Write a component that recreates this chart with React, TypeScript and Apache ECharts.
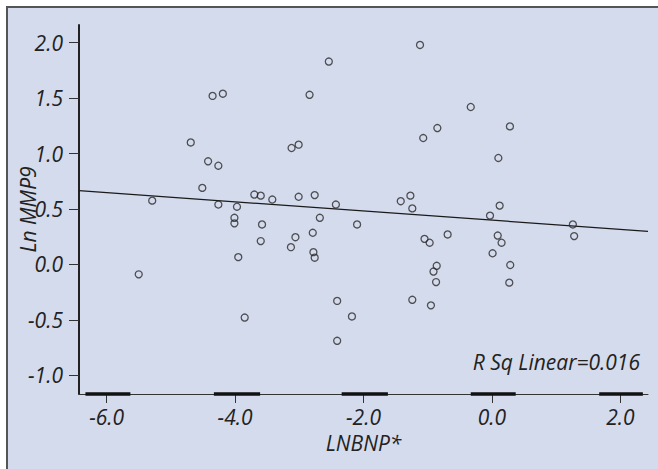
import React, { useEffect, useRef } from "react";
import * as echarts from "echarts";

// LNBNP* (x) and Ln MMP9 (y) for each subject
const lnbnp = [
  -5.5, -5.29, -4.69, -4.51, -4.42, -4.35, -4.26, -4.26, -4.19, -4.01,
  -4.01, -3.97, -3.95, -3.85, -3.7, -3.6, -3.58, -3.6, -3.42, -3.12,
  -3.01, -3.13, -3.06, -3.01, -2.84, -2.79, -2.78, -2.76, -2.76, -2.68,
  -2.54, -2.43, -2.41, -2.41, -2.18, -2.1, -1.42, -1.27, -1.24, -1.24,
  -1.12, -1.07, -1.05, -0.97, -0.95, -0.91, -0.86, -0.87, -0.85, -0.69,
  -0.33, -0.03, 0.01, 0.09, 0.1, 0.12, 0.15, 0.28, 0.285, 0.27,
  1.26, 1.28,
];
const lnmmp9 = [
  -0.09, 0.575, 1.1, 0.69, 0.93, 1.52, 0.89, 0.54, 1.54, 0.42,
  0.37, 0.52, 0.065, -0.48, 0.63, 0.62, 0.36, 0.21, 0.585, 1.05,
  1.08, 0.155, 0.245, 0.61, 1.53, 0.285, 0.11, 0.06, 0.625, 0.42,
  1.83, 0.54, -0.33, -0.69, -0.47, 0.36, 0.57, 0.62, 0.505, -0.32,
  1.98, 1.14, 0.23, 0.195, -0.37, -0.065, -0.013, -0.16, 1.23, 0.27,
  1.42, 0.44, 0.1, 0.26, 0.96, 0.53, 0.195, 1.245, -0.006, -0.165,
  0.36, 0.255,
];

// Linear fit line end points
const fitX = [-6.43, 2.43];
const fitY = [0.665, 0.298];

const xTicks = [-6, -4, -2, 0, 2];
const yTicks = [-1, -0.5, 0, 0.5, 1, 1.5, 2];
const xMin = -6.43;
const xMax = 2.43;
const yMin = -1.17;
const yMax = 2.16;

// Thick segments on the x axis
const barStart = [-6.33, -4.33, -2.34, -0.33, 1.67];
const barEnd = [-5.63, -3.61, -1.62, 0.37, 2.35];

const rSqLabel = "R Sq Linear=0.016";
const xName = "LNBNP*";
const yName = "Ln MMP9";

export default function App() {
  const ref = useRef<HTMLDivElement>(null);
  useEffect(() => {
    if (!ref.current) return;
    const chart = echarts.init(ref.current, null, { renderer: "svg" });
    const font = "'Open Sans', 'Noto Sans', sans-serif";
    const txt = { fontFamily: font, fontStyle: "italic", fontSize: 21, color: "#222" };
    const OX = 8;
    const OY = 8;
    chart.setOption({
      animation: false,
      backgroundColor: "#d4dbed",
      grid: {
        left: 79 - OX,
        top: 25 - OY,
        right: 10,
        bottom: 75,
        containLabel: false,
        outerBoundsMode: "none",
      },
      xAxis: {
        type: "value",
        min: xMin,
        max: xMax,
        name: xName,
        nameLocation: "middle",
        nameGap: 38,
        nameMoveOverlap: false,
        nameTextStyle: { ...txt },
        axisLine: { show: true, onZero: false, lineStyle: { color: "#333", width: 1 } },
        axisTick: { show: true, customValues: xTicks, length: 9, lineStyle: { color: "#333", width: 1 } },
        axisLabel: {
          customValues: xTicks,
          formatter: (v: number) => v.toFixed(1),
          margin: 12,
          ...txt,
        },
        splitLine: { show: false },
      },
      yAxis: {
        type: "value",
        min: yMin,
        max: yMax,
        name: yName,
        nameLocation: "middle",
        nameGap: 41,
        nameMoveOverlap: false,
        nameTextStyle: { ...txt },
        axisLine: { show: true, onZero: false, lineStyle: { color: "#222", width: 2 } },
        axisTick: { show: true, customValues: yTicks, length: 10, lineStyle: { color: "#333", width: 1 } },
        axisLabel: {
          customValues: yTicks,
          formatter: (v: number) => v.toFixed(1),
          margin: 16,
          ...txt,
        },
        splitLine: { show: false },
      },
      graphic: [
        {
          type: "text",
          x: 640 - OX,
          y: 362 - OY,
          style: {
            text: rSqLabel,
            fontFamily: font,
            fontStyle: "italic",
            fontSize: 21,
            fill: "#222",
            align: "right",
            verticalAlign: "middle",
          },
        },
      ],
      series: [
        {
          type: "scatter",
          data: lnbnp.map((x, i) => [x, lnmmp9[i]]),
          symbol: "circle",
          symbolSize: 7,
          itemStyle: { color: "rgba(0,0,0,0)", borderColor: "#2b2b2b", borderWidth: 1.3 },
          z: 3,
        },
        {
          type: "line",
          data: fitX.map((x, i) => [x, fitY[i]]),
          symbol: "none",
          lineStyle: { color: "#1a1a1a", width: 1.2 },
          z: 2,
        },
        ...barStart.map((s, i) => ({
          type: "line",
          data: [
            [s, yMin],
            [barEnd[i], yMin],
          ],
          symbol: "none",
          clip: false,
          lineStyle: { color: "#111", width: 3.5 },
          z: 5,
        })),
      ],
    });
    return () => chart.dispose();
  }, []);
  return (
    <div style={{ position: "fixed", left: 0, top: 0, width: 658, height: 469, background: "#fff", overflow: "hidden" }}>
      <div
        style={{
          position: "absolute",
          left: 6,
          top: 6,
          borderLeft: "2px solid #555",
          borderTop: "2px solid #555",
        }}
      >
        <div ref={ref} style={{ width: 650, height: 461 }} />
      </div>
    </div>
  );
}
